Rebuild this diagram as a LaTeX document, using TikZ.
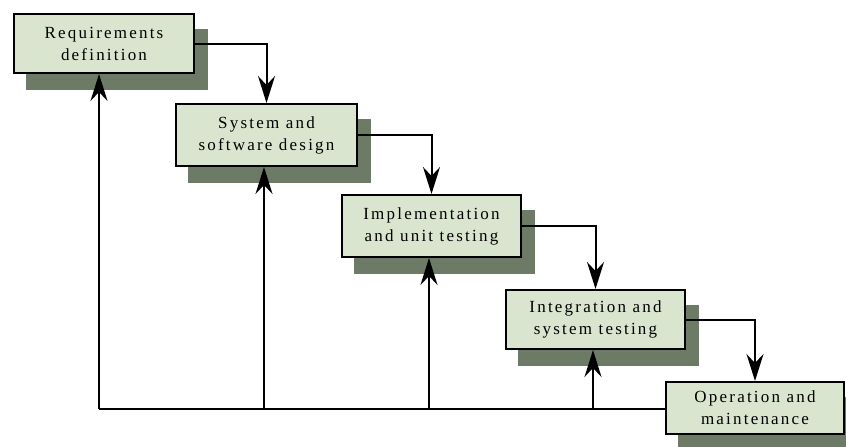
\documentclass[tikz,border=0pt]{standalone}
\usepackage{fontspec}
\setmainfont{Liberation Serif}[LetterSpace=13]
\usetikzlibrary{arrows.meta,backgrounds}
\definecolor{boxfill}{HTML}{D9E5CF}
\definecolor{shade}{HTML}{6D7A66}
\begin{document}
\begin{tikzpicture}[x=1pt,y=-1pt,
  stage/.style={draw=black, line width=2pt, fill=boxfill, anchor=north west,
    inner sep=0pt, align=center, font=\fontsize{17}{22}\selectfont},
  flow/.style={line width=2pt, -{Stealth[length=27pt,width=17pt,inset=9pt]}},
  plain/.style={line width=2pt},
  shadowbox/.style={fill=shade, draw=none}
]
\useasboundingbox (0,0) rectangle (846,447);
\clip (0,0) rectangle (846,447);

\node[stage, minimum width=180pt, minimum height=59pt] (b1) at (13,13) {Requirements\\definition};
\node[stage, minimum width=181pt, minimum height=62pt] (b2) at (175,103) {System and\\software design};
\node[stage, minimum width=179pt, minimum height=62pt] (b3) at (341,194) {Implementation\\and unit testing};
\node[stage, minimum width=179pt, minimum height=59pt] (b4) at (505,289) {Integration and\\system testing};
\node[stage, minimum width=178pt, minimum height=52pt] (b5) at (665,381) {Operation and\\maintenance};

\begin{scope}[on background layer]
  \foreach \b in {b1,b2,b3,b4,b5}
    \fill[shadowbox] ([shift={(13,16)}]\b.north west) rectangle ([shift={(13,16)}]\b.south east);
\end{scope}

\draw[flow] (b1.east) -| (b2.north);
\draw[flow] (b2.east) -| (b3.north);
\draw[flow] (b3.east) -| (b4.north);
\draw[flow] (b4.east) -| (b5.north);

\coordinate (c1) at (99,409);
\coordinate (c2) at (264,409);
\coordinate (c3) at (429,409);
\coordinate (c4) at (593,409);

\draw[plain] (c1 -| b5.west) -- (c1);
\draw[flow] (c1) -- (c1 |- b1.south);
\draw[flow] (c2) -- (c2 |- b2.south);
\draw[flow] (c3) -- (c3 |- b3.south);
\draw[flow] (c4) -- (c4 |- b4.south);
\end{tikzpicture}
\end{document}
